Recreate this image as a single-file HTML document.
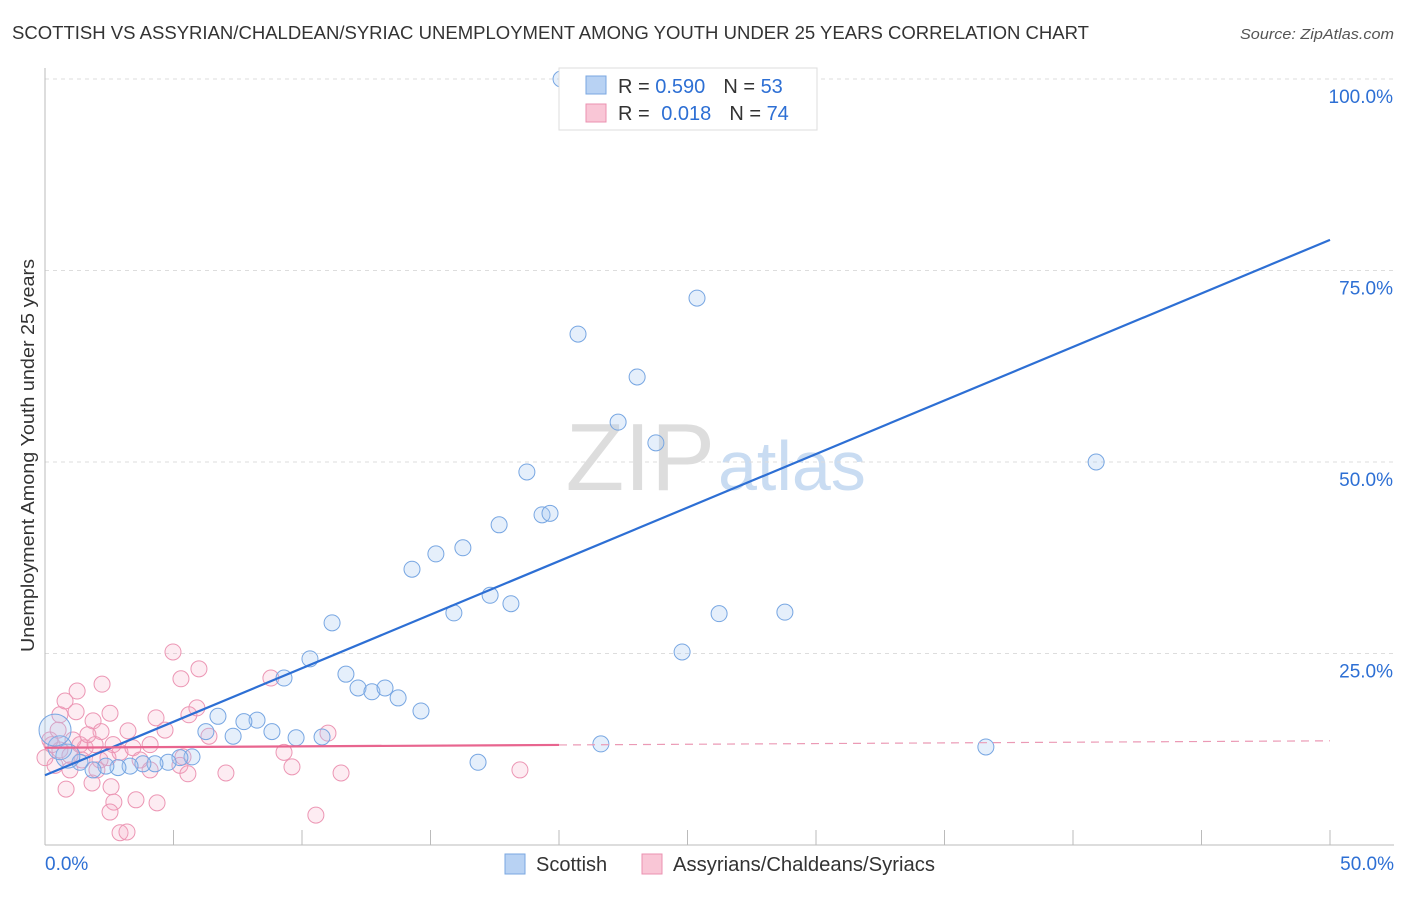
<!DOCTYPE html>
<html><head><meta charset="utf-8">
<style>
body{margin:0;background:#fff;font-family:"Liberation Sans",sans-serif;}
svg text{font-family:"Liberation Sans",sans-serif;}
</style></head>
<body>
<svg id="chart" width="1406" height="892" xmlns="http://www.w3.org/2000/svg">
<text x="12" y="39" font-size="18" fill="#333" textLength="1077" lengthAdjust="spacingAndGlyphs">SCOTTISH VS ASSYRIAN/CHALDEAN/SYRIAC UNEMPLOYMENT AMONG YOUTH UNDER 25 YEARS CORRELATION CHART</text>
<text x="1240" y="39" font-size="15" fill="#555" textLength="154" lengthAdjust="spacingAndGlyphs" font-style="italic">Source: ZipAtlas.com</text>
<text x="715" y="490" font-size="96" fill="#ddd" text-anchor="end" font-family="Liberation Serif">ZIP</text>
<text x="718" y="490" font-size="70" fill="#c9dcf2">atlas</text>
<text transform="translate(34,652) rotate(-90)" font-size="18" fill="#333" textLength="393" lengthAdjust="spacingAndGlyphs">Unemployment Among Youth under 25 years</text>
<g id="grid"></g>
<g id="marks"></g>
<g>
<rect x="559" y="68" width="258" height="62" fill="#fff" stroke="#ddd"/>
<rect x="586" y="76" width="20" height="18" fill="#b8d2f3" stroke="#7aa7e0"/>
<rect x="586" y="104" width="20" height="18" fill="#f9c6d6" stroke="#eb91b0"/>
<text x="618" y="93" font-size="20" fill="#333">R = <tspan fill="#2d6fd4">0.590</tspan><tspan dx="18">N = </tspan><tspan fill="#2d6fd4">53</tspan></text>
<text x="618" y="120" font-size="20" fill="#333">R = <tspan dx="6" fill="#2d6fd4">0.018</tspan><tspan dx="18">N = </tspan><tspan fill="#2d6fd4">74</tspan></text>
</g>
<g>
<rect x="505" y="854" width="20" height="20" fill="#b8d2f3" stroke="#7aa7e0"/>
<text x="536" y="871" font-size="20" fill="#333">Scottish</text>
<rect x="642" y="854" width="20" height="20" fill="#f9c6d6" stroke="#eb91b0"/>
<text x="673" y="871" font-size="20" fill="#333" textLength="262" lengthAdjust="spacingAndGlyphs">Assyrians/Chaldeans/Syriacs</text>
</g>
</svg>
<script>
const blueX=[20.08,24.05,20.74,25.37,23.04,22.30,23.77,18.75,40.9,19.34,19.65,17.67,16.26,15.21,14.28,17.32,15.91,18.13,26.23,28.79,11.17,24.79,10.31,9.30,11.71,12.18,12.72,13.23,13.74,14.63,6.73,8.25,7.74,7.32,8.83,9.77,10.78,21.63,36.61,16.85,6.26,5.72,5.25,4.79,4.28,3.81,3.31,2.84,2.37,1.87,1.36,0.89,0.58,0.39];
const blueY=[100,100,66.7,71.4,61.1,55.2,52.5,48.7,50.0,43.1,43.3,41.8,38.8,38.0,36.0,32.6,30.3,31.5,30.2,30.4,29.0,25.2,24.3,21.8,22.3,20.5,20.0,20.5,19.2,17.5,16.8,16.3,16.1,14.2,14.8,14.0,14.1,13.2,12.8,10.8,14.8,11.5,11.4,10.8,10.6,10.6,10.3,10.1,10.3,9.8,10.8,11.6,12.7,15.0];
const pinkX=[4.98,5.99,5.29,2.22,1.25,0.78,8.79,5.91,5.60,2.53,0.58,1.21,1.87,4.32,6.38,2.18,3.23,4.67,0.27,0.58,0.97,1.56,1.95,2.45,2.92,3.42,4.09,5.37,5.25,5.56,7.04,9.30,9.61,11.52,11.01,18.48,0.39,0.82,1.83,2.57,2.68,3.54,4.36,2.53,2.92,3.19,10.54,1.09,1.36,0.19,0.51,1.67,2.14,0.0,0.97,2.02,1.44,3.70,4.09,2.65];
const pinkY=[25.2,23.0,21.7,21.0,20.1,18.8,21.8,17.9,17.0,17.2,17.0,17.4,16.2,16.6,14.2,14.8,14.9,15.0,13.1,12.4,11.7,12.7,13.1,11.4,12.1,12.7,13.1,11.5,10.4,9.3,9.4,12.1,10.2,9.4,14.6,9.8,10.4,7.3,8.1,7.6,5.6,5.9,5.5,4.3,1.6,1.7,3.9,13.7,13.1,13.7,15.0,14.4,11.1,11.4,9.8,9.8,11.1,11.1,9.8,13.1];
const blueTrend=[9.1,79.0];
const pinkTrend=[12.7,13.6];
const yTicks=[25,50,75,100];
const xTicks=[0,5,10,15,20,25,30,35,40,45,50];
const NS="http://www.w3.org/2000/svg";
const X=v=>45+v/50*1285, Y=v=>845-v*7.66;
function mk(t,a,p){const e=document.createElementNS(NS,t);for(const k in a)e.setAttribute(k,a[k]);p.appendChild(e);return e;}
const g=document.getElementById('grid'), m=document.getElementById('marks');
yTicks.forEach(t=>{
 const l=mk('line',{x1:45,x2:1394,y1:Y(t),y2:Y(t),stroke:'#ddd','stroke-dasharray':'4,4'},g);
 
 
 const tx=mk('text',{x:1393,y:Y(t)+24,'font-size':19,fill:'#2d6fd4','text-anchor':'end'},g);
 tx.textContent=t.toFixed(1)+'%';
 
 
});
mk('line',{x1:45,x2:45,y1:68,y2:845,stroke:'#bbb'},g);
mk('line',{x1:45,x2:1394,y1:845,y2:845,stroke:'#bbb'},g);
xTicks.forEach(t=>{
 const l=mk('line',{x1:X(t),x2:X(t),y1:830,y2:845,stroke:'#bbb'},g);
 
 
});
[[0,'0.0%','start',45],[50,'50.0%','end',1394]].forEach(d=>{
 const tx=mk('text',{x:d[3],y:870,'font-size':19,fill:'#2d6fd4','text-anchor':d[2]},g);
 tx.textContent=d[1];
 
 
});
pinkX.forEach((x,i)=>{
 const c=mk('circle',{cx:X(x),cy:Y(pinkY[i]),r:8,fill:'rgba(246,170,196,0.22)',stroke:'#ec96b4','stroke-width':1},m);
 
 
});
blueX.forEach((x,i)=>{
 const big=i>=blueX.length-3;
 const c=mk('circle',{cx:X(x),cy:Y(blueY[i]),r:i==blueX.length-1?16:(big?12:8),fill:'rgba(160,196,240,0.28)',stroke:'#77a6e2','stroke-width':1},m);
 
 
});
const bl=mk('line',{x1:X(0),y1:Y(blueTrend[0]),x2:X(50),y2:Y(blueTrend[1]),stroke:'#2d6fd4','stroke-width':2.2},m);


const pm=pinkTrend[0]+(pinkTrend[1]-pinkTrend[0])*0.4;
const pl=mk('line',{x1:X(0),y1:Y(pinkTrend[0]),x2:X(20),y2:Y(pm),stroke:'#e8658f','stroke-width':2.2},m);


const pd=mk('line',{x1:X(20),y1:Y(pm),x2:X(50),y2:Y(pinkTrend[1]),stroke:'#eb9ab5','stroke-width':1.2,'stroke-dasharray':'8,6'},m);


</script>
</body></html>
